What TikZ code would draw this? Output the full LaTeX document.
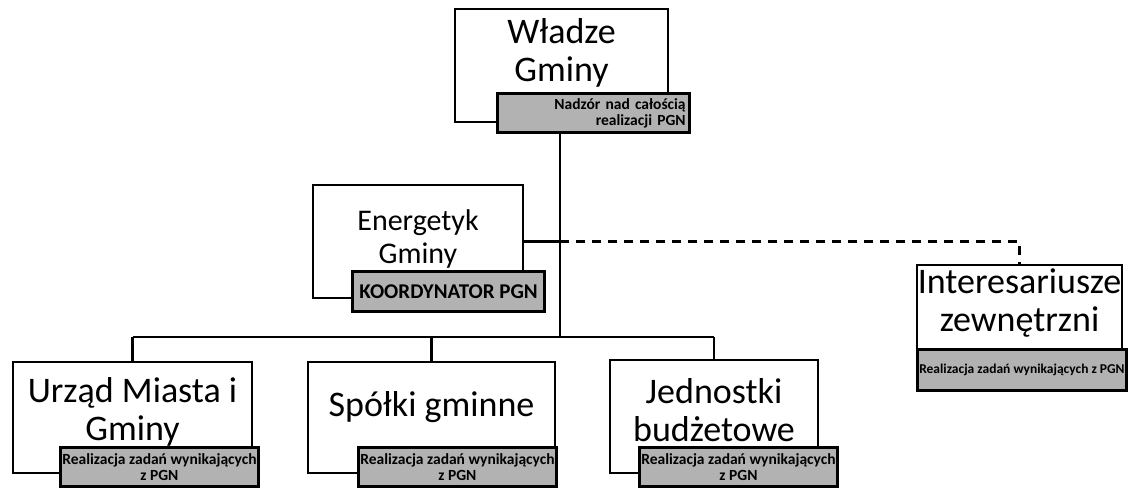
\documentclass[tikz,border=0pt]{standalone}
\usepackage{fontspec}
\setmainfont{Carlito}
\usetikzlibrary{positioning, calc}

\begin{document}
\begin{tikzpicture}[x=1pt, y=-1pt,
                unit/.style={rectangle, draw=black, line width=2.2pt, fill=white, inner sep=0pt},
                big/.style={align=center, font=\fontsize{36}{38}\selectfont},
                mid/.style={align=center, font=\fontsize{30}{33}\selectfont},
                tag/.style={rectangle, draw=black, line width=3pt, fill=black!30,
                            minimum width=192pt, minimum height=39pt, inner sep=2pt,
                            align=center, anchor=south east,
                            font=\fontsize{15.5}{16}\selectfont\bfseries},
                link/.style={line width=2.8pt, black},
                ext/.style={line width=2.5pt, black, dash pattern=on 9pt off 7pt}
            ]
                \useasboundingbox (0,0) rectangle (1129,488);

                \node[unit, minimum width=213pt, minimum height=113pt,
                      label={[big, yshift=13pt]center:{Władze\\Gminy}}] (wladze) at (561.5,65.5) {};
                \node[unit, minimum width=210pt, minimum height=113pt,
                      label={[mid, yshift=3pt]center:{Energetyk\\Gminy}}] (energ) at (418,241.5) {};
                \node[unit, minimum width=205pt, minimum height=107pt,
                      label={[big, yshift=15pt]center:{Interesariusze\\zewnętrzni}}] (inter) at (1019.5,318.5) {};
                \node[unit, minimum width=239pt, minimum height=111pt,
                      label={[big, yshift=6pt]center:{Urząd Miasta i\\Gminy}}] (urzad) at (132.5,417.5) {};
                \node[unit, minimum width=247pt, minimum height=111pt,
                      label={[big, yshift=10pt]center:{Spółki gminne}}] (spolki) at (431.5,417.5) {};
                \node[unit, minimum width=208pt, minimum height=113pt,
                      label={[big, yshift=6pt]center:{Jednostki\\budżetowe}}] (jedn) at (714,416.5) {};

                \node[tag, text width=184pt, align=right] (wladzeTag) at ($(wladze.south east)+(22,11)$) {Nadzór nad całością\\realizacji PGN};
                \node[tag, font=\fontsize{21}{22}\selectfont\bfseries, minimum height=40pt] (energTag) at ($(energ.south east)+(22,14)$) {KOORDYNATOR PGN};
                \node[tag, minimum width=187pt, minimum height=41pt, font=\fontsize{13.5}{14}\selectfont\bfseries] (interTag) at ($(inter.south east)+(5,19)$) {Realizacja zadań wynikających z PGN};
                \node[tag] (urzadTag) at ($(urzad.south east)+(7,14)$) {Realizacja zadań wynikających\\z PGN};
                \node[tag] (spolkiTag) at ($(spolki.south east)+(2,14)$) {Realizacja zadań wynikających\\z PGN};
                \node[tag, minimum width=188pt] (jednTag) at ($(jedn.south east)+(20,14)$) {Realizacja zadań wynikających\\z PGN};

                \coordinate (hub) at (560,337);
                \draw[link] (hub |- wladzeTag.south) -- (hub);
                \draw[link] (energ.east) -- (energ.east -| hub);
                \draw[ext] (energ.east -| hub) -- (energ.east -| inter.north) -- (inter.north);
                \draw[link] (urzad.north |- hub) -- (jedn.north |- hub);
                \foreach \b in {urzad, spolki, jedn}
                    \draw[link] (\b.north |- hub) -- (\b.north);
            \end{tikzpicture}
\end{document}
